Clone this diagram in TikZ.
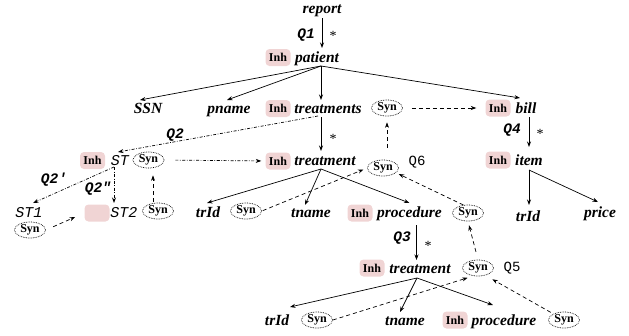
\documentclass[tikz,border=0pt]{standalone}
\usepackage{fontspec}
\setmainfont{Liberation Serif}
\newfontfamily\monof{Liberation Mono}
\usetikzlibrary{shapes.geometric,arrows.meta,calc}
\definecolor{pinkc}{RGB}{240,212,212}
\newcommand\lblf{\fontsize{15.5}{17}\selectfont\bfseries\itshape}
\newcommand\inhf{\fontsize{12}{13}\selectfont\bfseries}
\newcommand\qbf{\fontsize{14.5}{16}\selectfont\monof\bfseries\itshape}
\newcommand\qrf{\fontsize{14}{16}\selectfont\monof}
\newcommand\stf{\fontsize{15}{17}\selectfont\monof\itshape}
\tikzset{
  lab/.style={font=\lblf, inner sep=0pt, outer sep=0pt, anchor=base, text height=10pt, text depth=3pt},
  stl/.style={font=\stf, inner sep=0pt, outer sep=0pt, anchor=base, text height=10pt, text depth=3pt},
  inh/.style={fill=pinkc, rounded corners=4pt, minimum width=25pt, minimum height=17pt, inner sep=0pt, font=\inhf},
  syn/.style={ellipse, draw, densely dotted, line width=0.7pt, minimum width=31pt, minimum height=16pt, inner sep=0pt, font=\inhf},
  qlab/.style={font=\qbf, inner sep=0pt},
  qrlab/.style={font=\qrf, inner sep=0pt},
  star/.style={font=\fontsize{14}{15}\selectfont, inner sep=0pt, anchor=base},
  arr/.style={-{Stealth[length=5.5pt,width=4pt]}, line width=0.7pt},
  dsh/.style={arr, dash pattern=on 4pt off 3pt},
  dd/.style={arr, dash pattern=on 3pt off 1.6pt on 0.7pt off 1.6pt}
}
\begin{document}
\begin{tikzpicture}[x=1pt,y=-1pt]
\useasboundingbox (0,0) rectangle (629,335);
% text labels
\node[lab] (report) at (322,13) {report};
\node[lab] (patient) at (317,62) {patient};
\node[lab] (SSN) at (148,113) {SSN};
\node[lab] (pname) at (229,113) {pname};
\node[lab] (treatments) at (328,113) {treatments};
\node[lab] (bill) at (526,113) {bill};
\node[lab] (treatment) at (325,165) {treatment};
\node[lab] (item) at (529,165) {item};
\node[stl] (ST) at (120,165) {ST};
\node[stl] (ST1) at (29,217) {ST1};
\node[stl] (ST2) at (124,217) {ST2};
\node[lab] (trIdA) at (208,217) {trId};
\node[lab] (tnameA) at (311,217) {tname};
\node[lab] (procA) at (409.5,217) {procedure};
\node[lab] (trIdB) at (528,221) {trId};
\node[lab] (price) at (600,217) {price};
\node[lab] (treat2) at (420,273) {treatment};
\node[lab] (trId3) at (277,325) {trId};
\node[lab] (tname3) at (405,325) {tname};
\node[lab] (proc2) at (504,325) {procedure};
% Inh boxes
\node[inh] (ip) at (278,57.5) {Inh};
\node[inh] (its) at (278,108.5) {Inh};
\node[inh] (ib) at (498,108) {Inh};
\node[inh] (iST) at (92.5,160.5) {Inh};
\node[inh] (it) at (278,161) {Inh};
\node[inh] (ii) at (498,160) {Inh};
\node[inh] (boxST2) at (97,213) {};
\node[inh] (iprA) at (360,213) {Inh};
\node[inh] (it2) at (372,268) {Inh};
\node[inh] (ipr2) at (455,320) {Inh};
% Syn ellipses
\node[syn] (sts) at (387,108) {Syn};
\node[syn] (sST) at (148.5,160) {Syn};
\node[syn] (st) at (383,168) {Syn};
\node[syn] (sST1) at (30,230) {Syn};
\node[syn] (sST2) at (158,211) {Syn};
\node[syn] (strA) at (246,211) {Syn};
\node[syn] (sprA) at (468,213) {Syn};
\node[syn] (st2) at (478,268) {Syn};
\node[syn] (str3) at (317,320) {Syn};
\node[syn] (spr2) at (564,320) {Syn};
% Q labels and stars
\node[qlab] (Q1) at (306,35) {Q1};
\node[qlab] (Q2) at (175,135) {Q2};
\node[qlab] (Q2a) at (54,180) {Q2\textquotesingle};
\node[qlab] (Q2b) at (98,189) {Q2\textquotedbl};
\node[qlab] (Q3) at (402,238) {Q3};
\node[qlab] (Q4) at (512,130) {Q4};
\node[qrlab] (Q5) at (512,268) {Q5};
\node[qrlab] (Q6) at (417,162) {Q6};
\node[star] (s1) at (333,40) {*};
\node[star] (s2) at (333,143) {*};
\node[star] (s3) at (428,250) {*};
\node[star] (s4) at (540,138) {*};
% fork coordinates
\coordinate (pf) at ([xshift=4pt,yshift=-1pt]patient.south);
\coordinate (tsb) at ([xshift=-7pt,yshift=-1pt]treatments.south);
\coordinate (tf) at ([xshift=-4pt,yshift=-1pt]treatment.south);
\coordinate (stb) at ([xshift=-6pt,yshift=1pt]ST.south);
\coordinate (s2t) at ([xshift=-5pt,yshift=1pt]sST2.north);
\coordinate (pab) at ([xshift=7pt,yshift=-5pt]procA.south);
\coordinate (t2f) at ([xshift=-3pt,yshift=-2pt]treat2.south);
\coordinate (bb) at ([xshift=3pt,yshift=-1pt]bill.south);
\coordinate (itf) at ([yshift=-2pt]item.south);
% tree edges
\draw[arr, shorten <=2pt, shorten >=4pt] (report.south) -- (report.south |- patient.north);
\draw[arr] (pf) -- ([xshift=-8pt,yshift=3pt]SSN.north);
\draw[arr] (pf) -- ([xshift=-2pt,yshift=3pt]pname.north);
\draw[arr, shorten >=3pt] (pf) -- (pf |- treatments.north);
\draw[arr] (pf) -- ([xshift=-6pt,yshift=5pt]bill.north);
\draw[arr, shorten >=4pt] (tsb) -- (tsb |- treatment.north);
\draw[arr, shorten >=8pt] (bb) -- (bb |- item.north);
\draw[arr, shorten >=6pt] (itf) -- (itf |- trIdB.north);
\draw[arr] (itf) -- ([xshift=-2pt,yshift=5pt]price.north);
\draw[arr] (tf) -- ([xshift=-1pt,yshift=4pt]trIdA.north);
\draw[arr] (tf) -- ([xshift=-6pt,yshift=2pt]tnameA.north);
\draw[arr] (tf) -- ([yshift=4pt]procA.north);
\draw[arr, shorten >=3pt] (pab) -- (pab |- treat2.north);
\draw[arr] (t2f) -- ([xshift=13pt,yshift=8pt]trId3.north);
\draw[arr] (t2f) -- ([xshift=-5pt,yshift=3pt]tname3.north);
\draw[arr] (t2f) -- ([xshift=-11pt,yshift=10pt]proc2.north);
% dash-dot edges
\draw[dd] ([xshift=-10pt]treatments.south) -- ([xshift=-2pt,yshift=3pt]ST.north);
\draw[dd, shorten <=11pt, shorten >=4pt] (sST.east) -- (it.west);
\draw[dd] (stb) -- ([xshift=4pt,yshift=4pt]ST1.north);
\draw[dd, shorten >=4pt] (stb) -- (stb |- ST2.north);
% dashed edges
\draw[dsh, shorten <=9pt, shorten >=9pt] (sts.east) -- (ib.west);
\draw[dsh, shorten <=12pt, shorten >=6pt] (st.north -| sts.south) -- (sts.south);
\draw[dsh, shorten >=7pt] (s2t) -- (s2t |- sST.south);
\draw[dsh, shorten <=8pt, shorten >=10pt] (sST1.east) -- (boxST2.west);
\draw[dsh, shorten <=1pt, shorten >=4pt] (strA.east) -- (st.west);
\draw[dsh, shorten >=3pt] (sprA.120) -- (st.-20);
\draw[dsh, shorten <=8pt, shorten >=4pt] (st2.north) -- (sprA.south);
\draw[dsh, shorten >=6pt] (str3.east) -- (st2.240);
\draw[dsh, shorten <=3pt, shorten >=8pt] (spr2.150) -- (st2.-45);
\end{tikzpicture}
\end{document}
